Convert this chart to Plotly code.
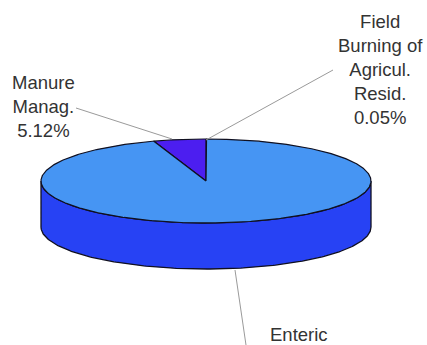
import numpy as np
import plotly.graph_objects as go

# Emission shares (%)
categories = ["Field Burning of Agricul. Resid.", "Manure Manag.", "Enteric"]
shares = [0.05, 5.12, 94.83]
label_texts = ["Field<br>Burning of<br>Agricul.<br>Resid.<br>0.05%",
               "Manure<br>Manag.<br>5.12%",
               "Enteric"]

# Pie geometry in pixel space
W, H = 427, 345
cx, cy, a, b, depth = 206, 181, 165, 42, 46
top_colors = ["#3a6cf2", "#4c1ef0", "#4695f3"]
side_color = "#2742f4"
edge = "#101020"


def rim(theta_deg, dy=0.0):
    t = np.radians(theta_deg)
    return cx + a * np.cos(t), cy - b * np.sin(t) + dy


fig = go.Figure()

# Front wall of the cylinder (lower half of the ellipse)
th = np.linspace(180, 360, 200)
xt, yt = rim(th)
xb, yb = rim(th[::-1], depth)
fig.add_trace(go.Scatter(x=np.concatenate([xt, xb, xt[:1]]),
                         y=np.concatenate([yt, yb, yt[:1]]),
                         mode="lines", fill="toself", fillcolor=side_color,
                         line=dict(color=edge, width=1.3), hoverinfo="skip"))

# Top face slices, counter-clockwise from 12 o'clock
total = sum(shares)
start = 90 - shares[0] / total * 360
for i, v in enumerate(shares):
    sweep = v / total * 360
    th = np.linspace(start, start + sweep, max(3, int(sweep * 2)))
    xs, ys = rim(th)
    fig.add_trace(go.Scatter(x=np.concatenate([[cx], xs, [cx]]),
                             y=np.concatenate([[cy], ys, [cy]]),
                             mode="lines", fill="toself",
                             fillcolor=top_colors[i],
                             line=dict(color=edge, width=1.2),
                             hoverinfo="skip"))
    start += sweep

# Label positions and leader lines
label_pos = [(380, 69), (43, 106), (299, 334)]
leader = [((333, 70), (206, 140)), ((76, 108), (172, 139)), ((235, 270), (246, 345))]
for (p0, p1) in leader:
    fig.add_trace(go.Scatter(x=[p0[0], p1[0]], y=[p0[1], p1[1]], mode="lines",
                             line=dict(color="#9a9a9a", width=1), hoverinfo="skip"))

for (x, y), txt in zip(label_pos, label_texts):
    fig.add_annotation(x=x, y=y, xref="x", yref="y", text=txt, showarrow=False,
                       font=dict(family="Liberation Sans, Arial", size=18.5, color="#333333"),
                       align="center")

fig.update_layout(width=W, height=H, margin=dict(l=0, r=0, t=0, b=0),
                  paper_bgcolor="white", plot_bgcolor="white", showlegend=False,
                  xaxis=dict(range=[0, W], visible=False, fixedrange=True),
                  yaxis=dict(range=[H, 0], visible=False, fixedrange=True))
fig.write_html("out.html")
